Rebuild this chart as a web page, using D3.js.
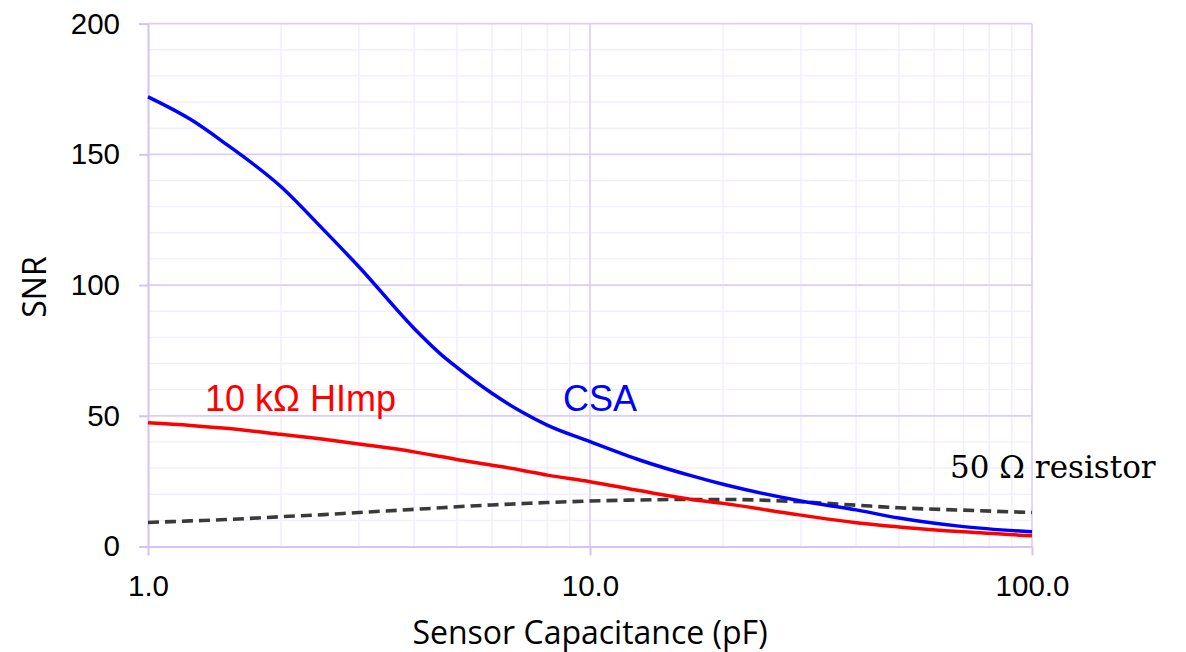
<!DOCTYPE html>
<html>
<head>
<meta charset="utf-8">
<script src="https://cdn.jsdelivr.net/npm/d3@7"></script>
<style>
  body { margin: 0; background: #fff; }
  svg { display: block; }
</style>
</head>
<body>
<svg id="chart" width="1186" height="652"></svg>
<script>
// ─── Data ────────────────────────────────────────────────────────────────────

const capacitance = [1, 1.25, 1.5, 2, 2.5, 3, 4, 4.6, 5, 6, 7, 8, 10, 13, 17, 20, 30, 40, 50, 70, 100];

const snrCSA      = [172, 163.3, 154, 137.6, 121, 107, 83.4, 73.5, 68.5, 58.6, 51.5, 46.4, 40.1, 33.0, 27.0, 23.8, 17.4, 14.0, 10.9, 7.6, 5.6];
const snrHImp     = [47.3, 46.3, 45.2, 42.9, 41.0, 39.2, 36.2, 34.4, 33.3, 31.1, 29.2, 27.3, 24.8, 21.3, 18.0, 16.5, 12.0, 9.1, 7.5, 5.6, 4.1];
const snrResistor = [9.2, 9.8, 10.3, 11.4, 12.2, 13.0, 14.2, 14.8, 15.2, 15.9, 16.4, 16.8, 17.4, 17.8, 18.0, 18.0, 17.1, 15.8, 14.8, 13.9, 13.0];

const xTicks = [1, 10, 100];
const yTicks = [0, 50, 100, 150, 200];
const xMinor = [2, 3, 4, 5, 6, 7, 8, 9, 20, 30, 40, 50, 60, 70, 80, 90];
const yMinor = [10, 20, 30, 40, 60, 70, 80, 90, 110, 120, 130, 140, 160, 170, 180, 190];

const xTitle = 'Sensor Capacitance (pF)';
const yTitle = 'SNR';

// ─── Config ──────────────────────────────────────────────────────────────────

const plot = { left: 148, right: 1032, top: 23.6, bottom: 546.5 };

const majorGrid = '#dccdf7';
const minorGrid = '#f3edfc';
const axisColor = '#d4c3f3';

const series = [
  { values: snrCSA,      color: '#0000ff', dash: null,   width: 3.5 },
  { values: snrHImp,     color: '#ff0000', dash: null,   width: 3.5 },
  { values: snrResistor, color: '#3a3a3a', dash: '11,6', width: 3.6 },
];

const labels = [
  { text: '10 kΩ HImp',    x: 205, y: 411, color: '#ff0000', font: '"Liberation Sans", Arial, sans-serif', size: 36 },
  { text: 'CSA',           x: 563, y: 411, color: '#0000ff', font: '"Liberation Sans", Arial, sans-serif', size: 36 },
  { text: '50 Ω resistor', x: 950, y: 478, color: '#000000', font: '"DejaVu Serif", serif',                size: 31 },
];

// ─── Setup ───────────────────────────────────────────────────────────────────

const svg = d3.select('#chart');

const x = d3.scaleLog().domain([1, 100]).range([plot.left, plot.right]);
const y = d3.scaleLinear().domain([0, 200]).range([plot.bottom, plot.top]);

// ─── Grid ────────────────────────────────────────────────────────────────────

const grid = svg.append('g');

grid.selectAll('.vminor').data(xMinor).join('line')
  .attr('x1', d => x(d)).attr('x2', d => x(d))
  .attr('y1', plot.top).attr('y2', plot.bottom)
  .attr('stroke', minorGrid).attr('stroke-width', 1.4);

grid.selectAll('.hminor').data(yMinor).join('line')
  .attr('x1', plot.left).attr('x2', plot.right)
  .attr('y1', d => y(d)).attr('y2', d => y(d))
  .attr('stroke', minorGrid).attr('stroke-width', 1.4);

grid.selectAll('.vmajor').data(xTicks.slice(1)).join('line')
  .attr('x1', d => x(d)).attr('x2', d => x(d))
  .attr('y1', plot.top).attr('y2', plot.bottom)
  .attr('stroke', majorGrid).attr('stroke-width', 1.6);

grid.selectAll('.hmajor').data(yTicks.slice(1)).join('line')
  .attr('x1', plot.left).attr('x2', plot.right)
  .attr('y1', d => y(d)).attr('y2', d => y(d))
  .attr('stroke', majorGrid).attr('stroke-width', 1.8);

// ─── Axes ────────────────────────────────────────────────────────────────────

const tickFont = '"Liberation Sans", Arial, sans-serif';

const xAxis = svg.append('g')
  .attr('transform', `translate(0,${plot.bottom})`)
  .call(d3.axisBottom(x).tickValues(xTicks).tickFormat(d3.format('.1f'))
    .tickSizeInner(9).tickSizeOuter(0).tickPadding(20));

const yAxis = svg.append('g')
  .attr('transform', `translate(${plot.left},0)`)
  .call(d3.axisLeft(y).tickValues(yTicks)
    .tickSizeInner(9).tickSizeOuter(0).tickPadding(19));

[xAxis, yAxis].forEach(ax => {
  ax.select('.domain').attr('stroke', axisColor).attr('stroke-width', 2);
  ax.selectAll('.tick line').attr('stroke', axisColor).attr('stroke-width', 2);
  ax.selectAll('.tick text')
    .attr('fill', '#000')
    .style('font-family', tickFont)
    .style('font-size', '29.5px');
});

// ─── Axis titles ─────────────────────────────────────────────────────────────

svg.append('text')
  .attr('x', 590).attr('y', 644)
  .attr('text-anchor', 'middle')
  .style('font-family', '"Open Sans", sans-serif')
  .style('font-size', '32px')
  .text(xTitle);

svg.append('text')
  .attr('transform', `translate(46,${(plot.top + plot.bottom) / 2 + 2}) rotate(-90)`)
  .attr('text-anchor', 'middle')
  .style('font-family', '"Open Sans", sans-serif')
  .style('font-size', '32px')
  .text(yTitle);

// ─── Series ──────────────────────────────────────────────────────────────────

const line = d3.line()
  .x(d => x(d[0]))
  .y(d => y(d[1]))
  .curve(d3.curveMonotoneX);

series.slice().reverse().forEach(s => {
  svg.append('path')
    .datum(capacitance.map((c, i) => [c, s.values[i]]))
    .attr('d', line)
    .attr('fill', 'none')
    .attr('stroke', s.color)
    .attr('stroke-width', s.width)
    .attr('stroke-dasharray', s.dash)
    .attr('stroke-linejoin', 'round');
});

// ─── Labels ──────────────────────────────────────────────────────────────────

labels.forEach(l => {
  svg.append('text')
    .attr('x', l.x).attr('y', l.y)
    .attr('fill', l.color)
    .style('font-family', l.font)
    .style('font-size', `${l.size}px`)
    .text(l.text);
});
</script>
</body>
</html>
